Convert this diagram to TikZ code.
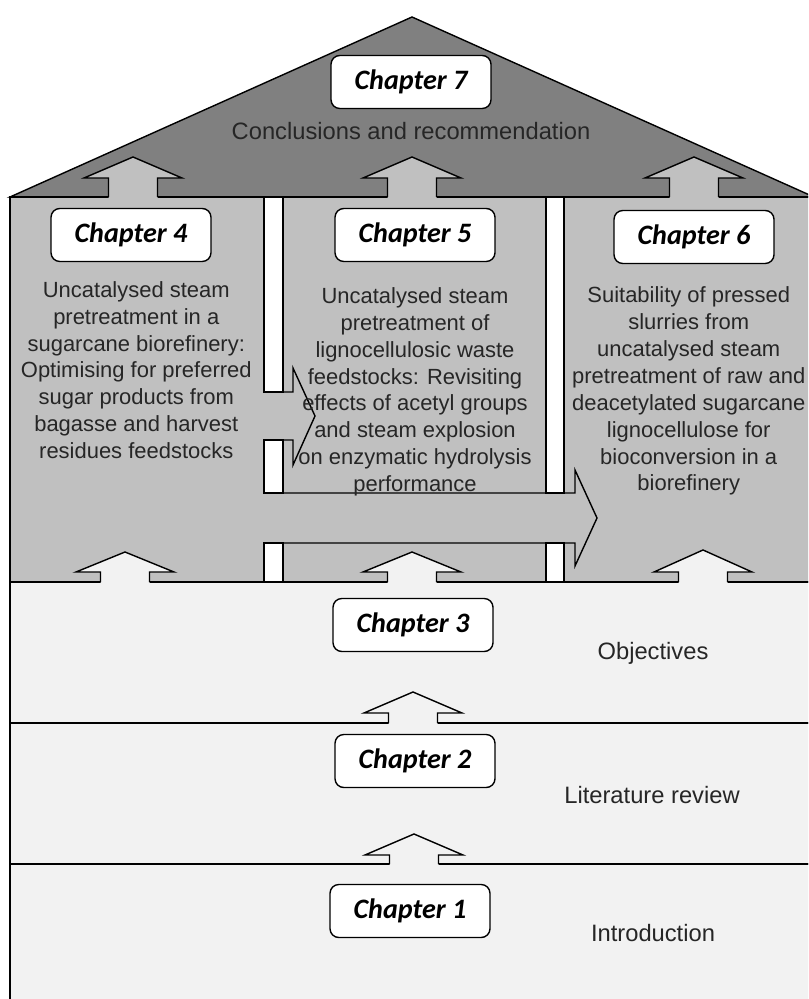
\documentclass[tikz,border=0pt]{standalone}
\usepackage{fontspec}
\setmainfont{Liberation Sans}
\newfontfamily\chapfont{Carlito}
\usetikzlibrary{positioning}

\definecolor{roofgray}{HTML}{808080}
\definecolor{midgray}{HTML}{C0C0C0}
\definecolor{floorgray}{HTML}{F2F2F2}

\begin{document}
\begin{tikzpicture}[
    x=0.02cm, y=-0.02cm,
    line width=0.8pt,
    chapter/.style={rectangle, draw, rounded corners=5pt, fill=white, minimum width=3.2cm, minimum height=1.06cm, inner sep=0pt, font=\chapfont\bfseries\itshape\fontsize{16}{19}\selectfont},
    desc/.style={align=center, inner sep=0pt, text=black!85, font=\fontsize{12.5}{15.3}\selectfont},
    floorname/.style={inner sep=0pt, text=black!85, font=\fontsize{13.5}{16}\selectfont},
]
\clip (0,0) rectangle (808,999);

% House: roof, upper storey and three floors
\filldraw[fill=roofgray] (10,197) -- (412,17) -- (814,197) -- cycle;
\filldraw[fill=midgray] (10,197) rectangle (814,582);
\foreach \top/\bot in {582/723, 723/864, 864/1005}
    \filldraw[fill=floorgray] (10,\top) rectangle (814,\bot);

% Pillars between chapters 4, 5 and 6
\foreach \xl/\xr/\top/\bot in {264/283/197/392, 264/283/440/493, 264/283/543/582, 546/564/197/493, 546/564/543/582}
    \filldraw[fill=white] (\xl,\top) rectangle (\xr,\bot);

% Sideways arrows out of chapter 4
\draw (264,392) -- (293,392) -- (293,368) -- (315,416) -- (293,465) -- (293,440) -- (264,440);
\draw (264,493) -- (575,493) -- (575,470) -- (597,518) -- (575,566) -- (575,543) -- (264,543);

% Upward arrows through the floors
\foreach \cx/\tip/\base/\ln/\col in {133/157/178/197/midgray, 412/157/178/197/midgray, 694/157/178/197/midgray,
        125/552/572/582/floorgray, 412/552/572/582/floorgray, 703/550/572/582/floorgray,
        413/692/713/723/floorgray, 414/834/855/864/floorgray}{
    \fill[fill=\col] ({\cx-24.5},{\ln+1.2}) -- ({\cx-24.5},\base) -- ({\cx-49},\base) -- (\cx,\tip)
        -- ({\cx+49},\base) -- ({\cx+24.5},\base) -- ({\cx+24.5},{\ln+1.2}) -- cycle;
    \draw ({\cx-24.5},\ln) -- ({\cx-24.5},\base) -- ({\cx-49},\base) -- (\cx,\tip)
        -- ({\cx+49},\base) -- ({\cx+24.5},\base) -- ({\cx+24.5},\ln);
}

% Roof
\node[chapter] (ch7) at (411,82) {Chapter 7};
\node[floorname, below=7pt of ch7] (concl) {Conclusions and recommendation};

% Upper storey
\node[chapter] (ch4) at (131,235) {Chapter 4};
\node[desc, below=10.5pt of ch4, xshift=3pt] (aim4) {Uncatalysed steam\\pretreatment in a\\sugarcane biorefinery:\\Optimising for preferred\\sugar products from\\bagasse and harvest\\residues feedstocks};

\node[chapter] (ch5) at (415,235) {Chapter 5};
\node[desc, below=14pt of ch5] (aim5) {Uncatalysed steam\\pretreatment of\\lignocellulosic waste\\feedstocks: Revisiting\\effects of acetyl groups\\and steam explosion\\on enzymatic hydrolysis\\performance};

\node[chapter] (ch6) at (694,237) {Chapter 6};
\node[desc, below=12.5pt of ch6, xshift=-3pt] (aim6) {Suitability of pressed\\slurries from\\uncatalysed steam\\pretreatment of raw and\\deacetylated sugarcane\\lignocellulose for\\bioconversion in a\\biorefinery};

% Floors
\node[chapter] (ch3) at (413,625) {Chapter 3};
\node[floorname] (obj) at (653,653) {Objectives};

\node[chapter] (ch2) at (415,761) {Chapter 2};
\node[floorname] (litrev) at (652,795) {Literature review};

\node[chapter] (ch1) at (410,911) {Chapter 1};
\node[floorname] (intro) at (653,933) {Introduction};

\end{tikzpicture}
\end{document}
